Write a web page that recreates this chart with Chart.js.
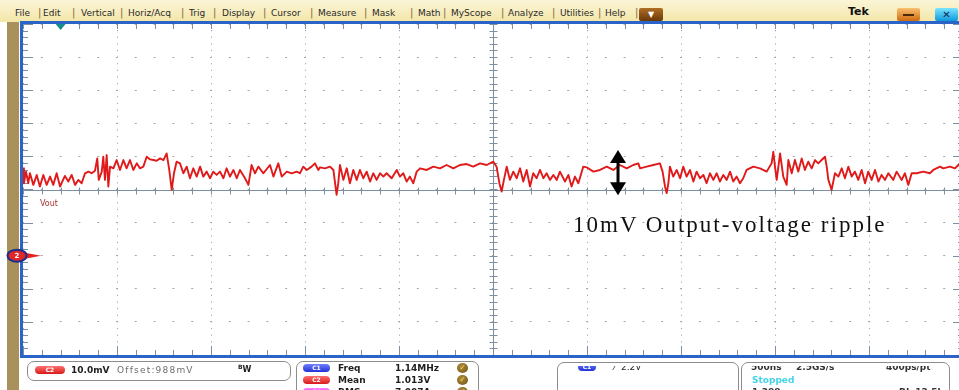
<!DOCTYPE html>
<html>
<head>
<meta charset="utf-8">
<script src="https://cdn.jsdelivr.net/npm/chart.js@4.4.1/dist/chart.umd.min.js"></script>
<style>
  html, body { margin: 0; padding: 0; }
  body { width: 959px; height: 390px; overflow: hidden; position: relative; background: #fff;
         font-family: "DejaVu Sans", Verdana, sans-serif; }
  #menubar { position: absolute; left: 0; top: 0; width: 959px; height: 22px;
             background: linear-gradient(#fbf5d8, #f3e6a8); }
  .mi  { position: absolute; top: 8px; font-size: 9px; line-height: 10px; color: #2a2a2a; white-space: nowrap; }
  .sep { position: absolute; top: 7px; font-size: 10px; line-height: 11px; color: #7a6a3a; }
  #strip { position: absolute; left: 7px; top: 22px; width: 12px; height: 368px; background: #a8915a; }
  #scope { position: absolute; left: 0; top: 0; }
  .abs { position: absolute; white-space: nowrap; }
  .box { position: absolute; border: 1px solid #8c8c8c; border-radius: 7px; background: #fff; overflow: hidden; }
  .pill { position: absolute; height: 8px; border-radius: 4px; color: #fff; font-size: 6px; line-height: 8px;
          text-align: center; font-weight: bold; }
  .red  { background: linear-gradient(#ff7070, #d81a1a); }
  .blue { background: linear-gradient(#7080ff, #2232d6); }
  .mag  { background: linear-gradient(#ff80ff, #cc16cc); }
  .t { position: absolute; font-size: 9px; line-height: 10px; white-space: nowrap; color: #1e1e1e; }
  .b { font-weight: bold; }
  .clip { position: absolute; overflow: hidden; left: 0; right: 0; }
  .ok { position: absolute; width: 11px; height: 10px; border-radius: 50%;
        background: radial-gradient(circle at 40% 35%, #b08a3a, #6e5318); color: #f0dc50;
        font-size: 8px; line-height: 10px; text-align: center; font-weight: bold; }
</style>
</head>
<body>
<div id="menubar">
  <span class="mi" style="left:15px">File</span><span class="sep" style="left:38px">|</span>
  <span class="mi" style="left:43px">Edit</span><span class="sep" style="left:72px">|</span>
  <span class="mi" style="left:81px">Vertical</span><span class="sep" style="left:120px">|</span>
  <span class="mi" style="left:128px">Horiz/Acq</span><span class="sep" style="left:181px">|</span>
  <span class="mi" style="left:189px">Trig</span><span class="sep" style="left:213px">|</span>
  <span class="mi" style="left:222px">Display</span><span class="sep" style="left:263px">|</span>
  <span class="mi" style="left:271px">Cursor</span><span class="sep" style="left:310px">|</span>
  <span class="mi" style="left:318px">Measure</span><span class="sep" style="left:364px">|</span>
  <span class="mi" style="left:372px">Mask</span><span class="sep" style="left:410px">|</span>
  <span class="mi" style="left:418px">Math</span><span class="sep" style="left:443px">|</span>
  <span class="mi" style="left:451px">MyScope</span><span class="sep" style="left:501px">|</span>
  <span class="mi" style="left:508px">Analyze</span><span class="sep" style="left:552px">|</span>
  <span class="mi" style="left:560px">Utilities</span><span class="sep" style="left:598px">|</span>
  <span class="mi" style="left:605px">Help</span><span class="sep" style="left:635px">|</span>
  <span class="abs" style="left:639px;top:8px;width:24px;height:13px;border-radius:2px;background:linear-gradient(#b06e24,#6a3808);color:#fff;font-size:8px;line-height:13px;text-align:center">▼</span>
  <span class="abs" style="left:848px;top:6px;font-size:11px;line-height:12px;font-weight:bold;color:#111">Tek</span>
  <span class="abs" style="left:897px;top:8px;width:23px;height:13px;border-radius:2px;background:linear-gradient(#f9c070,#d06a10)"><span class="abs" style="left:6px;top:6px;width:11px;height:2px;background:#4a2a08"></span></span>
  <span class="abs" style="left:935px;top:8px;width:23px;height:13px;border-radius:2px;background:linear-gradient(#7ae4ff,#1098dc);color:#0a2a5a;font-size:10px;line-height:13px;text-align:center;font-weight:bold">✕</span>
</div>
<div id="strip"></div>
<canvas id="scope" width="966" height="390"></canvas>

<span class="abs" style="left:40px;top:199px;font-size:8px;line-height:9px;color:#a83434">Vout</span>
<span class="abs" style="left:573px;top:212px;font-family:'Liberation Serif','DejaVu Serif',serif;font-size:23px;line-height:26px;letter-spacing:2px;color:#111">10mV Output-voltage ripple</span>

<div class="box" style="left:27px;top:361px;width:262px;height:18px">
  <span class="pill red" style="left:7px;top:4px;width:30px">C2</span>
  <span class="t b" style="left:43px;top:3px">10.0mV</span>
  <span class="t" style="left:89px;top:3px;color:#6e6e6e;letter-spacing:1.2px">Offset:988mV</span>
  <span class="t b" style="left:210px;top:3px;font-size:8px"><span style="font-size:6px;position:relative;top:-3px">B</span>W</span>
</div>

<div class="box" style="left:296px;top:361px;width:181px;height:40px">
  <span class="pill blue" style="left:6px;top:2px;width:27px">C1</span>
  <span class="t b" style="left:41px;top:1px">Freq</span>
  <span class="t b" style="left:98px;top:1px">1.14MHz</span>
  <span class="ok" style="left:160px;top:1px">✓</span>
  <span class="pill red" style="left:6px;top:14px;width:27px">C2</span>
  <span class="t b" style="left:41px;top:13px">Mean</span>
  <span class="t b" style="left:98px;top:13px">1.013V</span>
  <span class="ok" style="left:160px;top:13px">✓</span>
  <span class="pill mag" style="left:6px;top:26px;width:27px">C4</span>
  <span class="t b" style="left:41px;top:25px">RMS</span>
  <span class="t b" style="left:98px;top:25px">7.007A</span>
  <span class="ok" style="left:160px;top:25px">✓</span>
</div>

<div class="box" style="left:557px;top:362px;width:180px;height:40px">
  <div class="clip" style="top:3px;height:6px">
    <span class="pill blue" style="left:20px;top:-3px;width:18px">C1</span>
    <span class="t" style="left:56px;top:-4px">⁄</span>
    <span class="t" style="left:63px;top:-4px">2.2V</span>
  </div>
</div>

<div class="box" style="left:741px;top:362px;width:207px;height:40px">
  <div class="clip" style="top:3px;height:6px">
    <span class="t b" style="left:9px;top:-4px;color:#333">500ns</span>
    <span class="t b" style="left:54px;top:-4px;color:#333">2.5GS/s</span>
    <span class="t b" style="left:144px;top:-4px;color:#333">400ps/pt</span>
  </div>
  <span class="t b" style="left:10px;top:12px;color:#44d4e6">Stopped</span>
  <span class="t b" style="left:10px;top:24px;color:#333">1,388 acqs</span>
  <span class="t b" style="left:157px;top:24px;color:#333">RL:12.5k</span>
</div>

<script>
'use strict';

// 수평: 500ns/div, 10 div / 수직(C2): 10mV/div, offset 988mV, position -2div
const X_MIN = 0, X_MAX = 5000, X_STEP = 500, X_CENTER = 2500;
const Y_MIN = 958, Y_MAX = 1058, Y_STEP = 10, Y_CENTER = 1008;

const TRIGGER_NS   = 200;
const CH2_LEVEL_MV = 988;

// 리플 화살표 (주석)
const RIPPLE_T_NS    = 3165;
const RIPPLE_LOW_MV  = 1006.3;
const RIPPLE_HIGH_MV = 1019.9;

// Vout 파형 (화면에서 읽은 값)
const TRACE_T_NS = [
  0, 5, 16, 28, 37, 55, 73, 90, 108, 126, 144, 161, 179, 197, 223,
  241, 259, 277, 294, 312, 330, 348, 365, 383, 395, 403, 419, 427, 436, 445,
  454, 463, 481, 498, 516, 534, 551, 569, 587, 605, 622, 640, 658, 676, 693,
  711, 729, 747, 764, 778, 791, 803, 817, 835, 853, 871, 888, 906, 924, 942,
  959, 977, 995, 1012, 1030, 1048, 1066, 1083, 1101, 1119, 1137, 1154, 1181, 1199, 1216,
  1234, 1252, 1278, 1314, 1332, 1358, 1376, 1403, 1429, 1456, 1473, 1491, 1509, 1535, 1553,
  1571,
  1580, 1606, 1633, 1651, 1660, 1668, 1677, 1686, 1704, 1722, 1739, 1757, 1775, 1792, 1810,
  1828, 1846, 1863, 1881, 1899, 1917, 1934, 1961, 1988, 2005, 2023, 2041, 2058, 2076, 2094,
  2112, 2147, 2183, 2218, 2253, 2289, 2324, 2360, 2395, 2431, 2466, 2502, 2519, 2534, 2546,
  2558, 2573, 2590, 2608, 2626, 2644, 2661, 2679, 2697, 2714, 2732, 2750, 2768, 2785, 2803,
  2821, 2839, 2856, 2883, 2901, 2918, 2936, 2954, 2980, 2998, 3034, 3069, 3105, 3140, 3175,
  3211, 3246, 3273,
  3282, 3317, 3353, 3388, 3402, 3415, 3424, 3433, 3441, 3459, 3477, 3495, 3512, 3530, 3548,
  3566, 3583, 3601, 3619, 3636, 3654, 3672, 3690, 3707, 3725, 3743, 3761, 3778, 3796, 3814,
  3831, 3849, 3885, 3920, 3956, 3982, 3991, 4000, 4009, 4027, 4044, 4062, 4071, 4089, 4106,
  4124, 4142, 4159, 4177, 4195, 4213, 4230, 4248, 4266, 4275, 4284, 4301, 4319, 4337, 4355,
  4372, 4390, 4408, 4425, 4443, 4461, 4479, 4496, 4514, 4532, 4550, 4567, 4585, 4603, 4629,
  4647, 4674, 4691, 4709, 4727, 4753, 4789, 4824, 4842, 4878, 4895, 4931, 4957, 4975, 5000
];
const TRACE_MV = [
  1014.4, 1009.9, 1013.4, 1009.9, 1012.9, 1009.4, 1012.4, 1008.9, 1012.4, 1009.4, 1011.9, 1009.4, 1012.9, 1008.9, 1012.1,
  1010.4, 1012.4, 1009.4, 1010.9, 1009.9, 1012.9, 1013.4, 1012.9, 1013.7, 1017.4, 1010.9, 1013.4, 1017.9, 1010.9, 1018.4,
  1008.9, 1014.9, 1014.4, 1016.9, 1013.9, 1016.9, 1014.4, 1016.9, 1013.9, 1015.9, 1014.4, 1014.9, 1017.9, 1017.1, 1016.9,
  1016.7, 1017.4, 1016.9, 1018.9, 1013.9, 1007.9, 1012.9, 1016.4, 1015.9, 1012.9, 1014.9, 1011.4, 1014.4, 1011.9, 1014.9,
  1011.9, 1013.4, 1011.4, 1013.4, 1012.4, 1013.4, 1011.4, 1014.4, 1011.9, 1013.9, 1011.4, 1013.9, 1011.4, 1009.4, 1015.4,
  1012.9, 1014.9, 1012.9, 1015.4, 1011.9, 1015.9, 1011.9, 1013.4, 1012.9, 1013.4, 1012.9, 1014.9, 1013.9, 1014.9, 1015.9,
  1013.9,
  1014.7, 1014.4, 1014.9, 1013.9, 1009.9, 1006.4, 1009.9, 1015.4, 1010.9, 1014.4, 1009.9, 1013.9, 1010.9, 1013.9, 1011.4,
  1013.4, 1010.4, 1012.9, 1010.9, 1012.9, 1011.9, 1012.9, 1011.4, 1013.9, 1011.9, 1012.9, 1010.4, 1011.9, 1009.9, 1013.4,
  1014.4, 1013.9, 1014.9, 1014.4, 1015.4, 1014.4, 1015.4, 1015.7, 1014.9, 1015.9, 1015.4, 1016.4, 1014.9, 1009.9, 1007.4,
  1010.9, 1014.9, 1010.9, 1013.4, 1011.4, 1014.4, 1010.4, 1013.9, 1008.9, 1012.9, 1011.4, 1013.9, 1011.4, 1012.9, 1010.9,
  1012.4, 1010.9, 1013.4, 1010.4, 1012.4, 1008.9, 1011.9, 1009.9, 1014.9, 1014.7, 1013.4, 1013.9, 1014.9, 1013.9, 1015.4,
  1014.4, 1015.4, 1015.9,
  1014.4, 1014.9, 1015.4, 1015.9, 1013.4, 1008.9, 1006.9, 1009.9, 1014.9, 1011.9, 1013.9, 1011.4, 1014.9, 1011.9, 1013.9,
  1010.4, 1013.4, 1011.4, 1012.4, 1009.9, 1012.9, 1010.9, 1012.9, 1010.4, 1012.4, 1010.9, 1013.4, 1010.4, 1011.9, 1009.9,
  1011.4, 1013.9, 1014.9, 1014.4, 1013.4, 1015.9, 1019.4, 1014.9, 1010.9, 1018.9, 1011.9, 1009.4, 1016.9, 1012.9, 1016.9,
  1013.4, 1017.4, 1013.9, 1016.4, 1014.4, 1016.9, 1015.9, 1016.9, 1017.9, 1014.9, 1010.9, 1007.9, 1012.9, 1011.9, 1014.4,
  1011.4, 1014.9, 1011.9, 1013.4, 1010.9, 1013.9, 1009.9, 1013.4, 1010.9, 1013.9, 1010.4, 1012.4, 1010.9, 1012.9, 1010.9,
  1013.4, 1010.9, 1012.9, 1009.4, 1012.9, 1012.9, 1013.4, 1012.9, 1013.9, 1014.9, 1014.4, 1014.9, 1014.4, 1015.4, 1015.0
];

function seg(ctx, x1, y1, x2, y2) {
  ctx.beginPath();
  ctx.moveTo(x1, y1);
  ctx.lineTo(x2, y2);
  ctx.stroke();
}

// 그래티큘 / 프레임 / 마커
const scopeDecor = {
  id: 'scopeDecor',
  beforeDatasetsDraw(chart) {
    const { ctx, chartArea: a, scales: { x, y } } = chart;
    const cx = Math.round(x.getPixelForValue(X_CENTER)) + 0.5;
    const cy = Math.round(y.getPixelForValue(Y_CENTER)) + 0.5;
    const minorX = (x.getPixelForValue(X_STEP) - x.getPixelForValue(X_MIN)) / 5;
    const minorY = (y.getPixelForValue(Y_MIN) - y.getPixelForValue(Y_MIN + Y_STEP)) / 5;

    ctx.save();
    ctx.strokeStyle = '#7d90a3';
    ctx.lineWidth = 1;
    seg(ctx, a.left, cy, a.right, cy);
    seg(ctx, cx, a.top, cx, a.bottom);

    for (let i = 0; i <= 50; i++) {
      const px = Math.round(a.left + i * minorX) + 0.5;
      const major = i % 5 === 0;
      seg(ctx, px, cy - 3, px, cy + 4);
      seg(ctx, px, a.top, px, a.top + 5);
      seg(ctx, px, a.bottom - (major ? 9 : 5), px, a.bottom);
    }
    for (let j = 0; j <= 50; j++) {
      const py = Math.round(a.top + j * minorY) + 0.5;
      const major = j % 5 === 0;
      seg(ctx, cx - 4, py, cx + 4, py);
      seg(ctx, a.left, py, a.left + (major ? 10 : 5), py);
      seg(ctx, a.right - (major ? 10 : 5), py, a.right, py);
    }

    ctx.strokeStyle = '#2a64c8';
    ctx.lineWidth = 3;
    ctx.strokeRect(a.left - 1.5, a.top - 1.5, a.width + 3, a.height + 3);
    ctx.restore();
  },
  afterDatasetsDraw(chart) {
    const { ctx, chartArea: a, scales: { x, y } } = chart;
    ctx.save();

    // 트리거 위치
    const tx = x.getPixelForValue(TRIGGER_NS);
    ctx.fillStyle = '#178c8c';
    ctx.beginPath();
    ctx.moveTo(tx - 5, a.top);
    ctx.lineTo(tx + 5, a.top);
    ctx.lineTo(tx, a.top + 6);
    ctx.closePath();
    ctx.fill();

    // CH2 기준 마커
    const my = y.getPixelForValue(CH2_LEVEL_MV);
    const ox = a.left - 6;
    ctx.fillStyle = '#e52222';
    ctx.beginPath();
    ctx.moveTo(ox + 8, my - 3);
    ctx.lineTo(ox + 8, my + 3);
    ctx.lineTo(ox + 24, my);
    ctx.closePath();
    ctx.fill();
    ctx.beginPath();
    ctx.ellipse(ox, my, 9.5, 6, 0, 0, Math.PI * 2);
    ctx.fillStyle = '#e02828';
    ctx.fill();
    ctx.lineWidth = 2;
    ctx.strokeStyle = '#1e2f8a';
    ctx.stroke();
    ctx.fillStyle = '#fff';
    ctx.font = 'bold 7px "DejaVu Sans"';
    ctx.textAlign = 'center';
    ctx.textBaseline = 'middle';
    ctx.fillText('2', ox, my + 0.5);

    // 리플 양방향 화살표
    const ax = x.getPixelForValue(RIPPLE_T_NS);
    const yt = y.getPixelForValue(RIPPLE_HIGH_MV);
    const yb = y.getPixelForValue(RIPPLE_LOW_MV);
    ctx.fillStyle = '#000';
    ctx.beginPath();
    ctx.moveTo(ax, yt);
    ctx.lineTo(ax - 8, yt + 13);
    ctx.lineTo(ax + 8, yt + 13);
    ctx.closePath();
    ctx.fill();
    ctx.beginPath();
    ctx.moveTo(ax, yb);
    ctx.lineTo(ax - 8, yb - 13);
    ctx.lineTo(ax + 8, yb - 13);
    ctx.closePath();
    ctx.fill();
    ctx.fillRect(ax - 1.5, yt + 12, 3, yb - yt - 24);
    ctx.restore();
  }
};

const points = TRACE_T_NS.map((t, i) => ({ x: t, y: TRACE_MV[i] }));

new Chart(document.getElementById('scope'), {
  type: 'line',
  data: {
    datasets: [{
      label: 'Vout',
      data: points,
      borderColor: '#e01a1a',
      borderWidth: 1.9,
      borderJoinStyle: 'round',
      pointRadius: 0,
      tension: 0,
    }],
  },
  options: {
    responsive: false,
    animation: false,
    devicePixelRatio: 1,
    layout: { padding: { left: 23, top: 24, right: 3, bottom: 35 } },
    plugins: { legend: { display: false }, tooltip: { enabled: false } },
    scales: {
      x: {
        type: 'linear',
        min: X_MIN, max: X_MAX,
        ticks: { stepSize: X_STEP, display: false },
        grid: { color: '#a6a6a6', lineWidth: 1, drawTicks: false },
        border: { display: false, dash: [1.2, 5.42], dashOffset: 0.6 },
        afterFit(scale) { scale.height = 0; },
      },
      y: {
        min: Y_MIN, max: Y_MAX,
        ticks: { stepSize: Y_STEP, display: false },
        grid: { color: '#a6a6a6', lineWidth: 1, drawTicks: false },
        border: { display: false, dash: [2, 16.8], dashOffset: 1 },
        afterFit(scale) { scale.width = 0; },
      },
    },
  },
  plugins: [scopeDecor],
});
</script>
</body>
</html>
